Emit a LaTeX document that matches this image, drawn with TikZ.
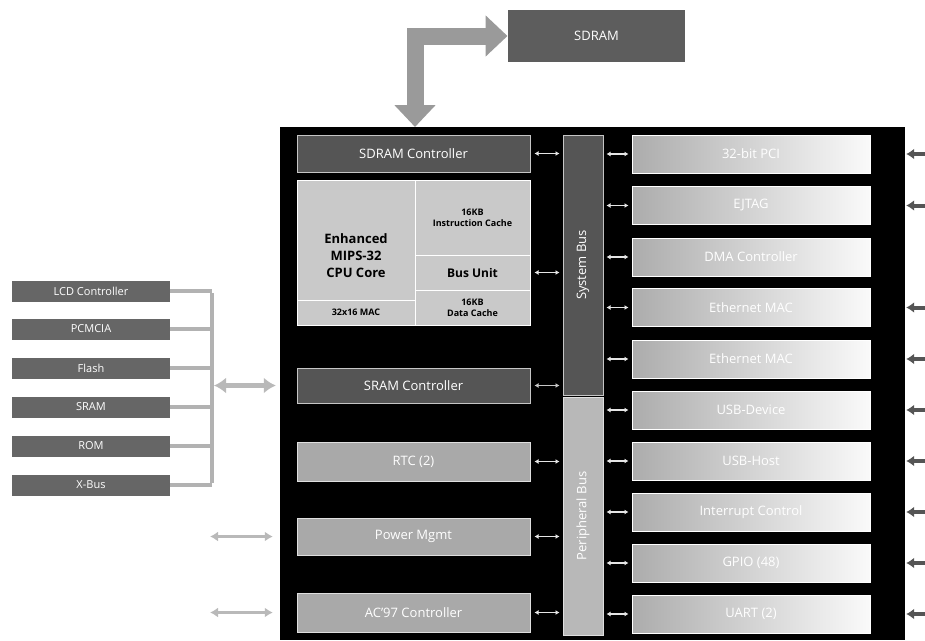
\documentclass[tikz,border=0pt]{standalone}
\usepackage{fontspec}
\setmainfont{Open Sans}
\usetikzlibrary{arrows.meta,positioning}
\definecolor{dkbox}{HTML}{555555}
\definecolor{ltbox}{HTML}{A9A9A9}
\definecolor{cpubox}{HTML}{C9C9C9}
\definecolor{fatgray}{HTML}{9A9A9A}
\definecolor{pbus}{HTML}{B8B8B8}
\tikzset{
  base/.style={inner sep=0pt, align=center, text=white},
  darkbox/.style={base, fill=dkbox, draw=gray!45, line width=1pt, font=\fontsize{13}{15}\selectfont},
  lightbox/.style={base, fill=ltbox, draw=gray!25, line width=1pt, font=\fontsize{13}{15}\selectfont},
  cpucell/.style={base, text=black, fill=cpubox, draw=white, line width=1pt, font=\bfseries\fontsize{9}{11}\selectfont},
  rightbox/.style={base, left color=gray!65, right color=gray!4, draw=white, line width=1pt,
    minimum width=238pt, minimum height=38pt, font=\fontsize{13}{15}\selectfont},
  leftbox/.style={base, fill=dkbox!90, minimum width=158pt, minimum height=21pt, font=\fontsize{11}{13}\selectfont},
  smallarr/.style={{Latex[length=4pt,width=5pt]}-{Latex[length=4pt,width=5pt]}, line width=1.4pt, draw=gray!20},
  extarr/.style={{Latex[length=8pt,width=10pt]}-{Latex[length=8pt,width=10pt]}, line width=3.5pt, draw=gray!55},
  rextarr/.style={{Latex[length=8pt,width=11pt]}-, line width=4pt, draw=dkbox},
  fatarr/.style={{Triangle[length=22pt,width=40pt]}-{Triangle[length=22pt,width=40pt]}, line width=17pt, draw=fatgray},
  brack/.style={line width=4pt, draw=gray!60}
}
\begin{document}
\begin{tikzpicture}[x=1pt,y=-1pt]
\useasboundingbox (0,0) rectangle (925,640);
% top SDRAM
\node[darkbox, fill=dkbox!95, draw=none, minimum width=177pt, minimum height=52pt] (sdram) at (596.5,36) {SDRAM};
% main black box
\node[fill=black, inner sep=0pt, minimum width=625pt, minimum height=513pt] (main) at (592.5,383.5) {};
\coordinate (mtop) at (415,127);
\draw[fatarr] (sdram.west) -| (mtop);
% left column of main
\node[darkbox, minimum width=233pt, minimum height=37pt] (sdc) at (413.5,153.5) {SDRAM Controller};
\node[cpucell, font=\bfseries\fontsize{13}{17}\selectfont, minimum width=118pt, minimum height=120pt, text height=76pt] (core) at (356,240) {Enhanced\\MIPS-32\\CPU Core};
\node[cpucell, minimum width=118pt, minimum height=25pt] (mac) at (356,312.5) {32x16 MAC};
\node[cpucell, minimum width=115pt, minimum height=75pt] (icache) at (472.5,217.5) {16KB\\Instruction Cache};
\node[cpucell, font=\bfseries\fontsize{12}{14}\selectfont, minimum width=115pt, minimum height=35pt] (busu) at (472.5,272.5) {Bus Unit};
\node[cpucell, minimum width=115pt, minimum height=35pt] (dcache) at (472.5,307.5) {16KB\\Data Cache};
\node[darkbox, minimum width=233pt, minimum height=35pt] (sramc) at (413.5,385.5) {SRAM Controller};
\node[lightbox, minimum width=233pt, minimum height=39pt] (rtc) at (413.5,461.5) {RTC (2)};
\node[lightbox, minimum width=233pt, minimum height=37pt] (pwr) at (413.5,536.5) {Power Mgmt};
\node[lightbox, minimum width=233pt, minimum height=39pt] (ac97) at (413.5,612.5) {AC'97 Controller};
% buses
\node[base, fill=dkbox, draw=gray!45, line width=1pt, minimum width=40pt, minimum height=260pt] (sbus) at (583,265) {};
\node[base, rotate=90, font=\fontsize{13}{15}\selectfont] at (sbus.center) {System Bus};
\node[base, fill=pbus, draw=gray!25, line width=1pt, minimum width=40pt, minimum height=238pt] (pbus) at (583,516) {};
\node[base, rotate=90, font=\fontsize{13}{15}\selectfont] at (pbus.center) {Peripheral Bus};
% right boxes
\node[rightbox] (r1) at (751,154) {32-bit PCI};
\node[rightbox] (r2) at (751,205.5) {EJTAG};
\node[rightbox] (r3) at (751,257) {DMA Controller};
\node[rightbox] (r4) at (751,307.5) {Ethernet MAC};
\node[rightbox] (r5) at (751,359) {Ethernet MAC};
\node[rightbox] (r6) at (751,410) {USB-Device};
\node[rightbox] (r7) at (751,461) {USB-Host};
\node[rightbox] (r8) at (751,512) {Interrupt Control};
\node[rightbox] (r9) at (751,563) {GPIO (48)};
\node[rightbox] (r10) at (751,614) {UART (2)};
% small arrows bus <-> right boxes
\foreach \i in {1,...,5} \draw[smallarr, shorten <=3pt, shorten >=3pt] (r\i.west) -- (r\i.west -| sbus.east);
\foreach \i in {6,...,10} \draw[smallarr, shorten <=3pt, shorten >=3pt] (r\i.west) -- (r\i.west -| pbus.east);
% small arrows left column <-> bus
\draw[smallarr, shorten <=4pt, shorten >=3pt] (sdc.east) -- (sdc.east -| sbus.west);
\draw[smallarr, shorten <=4pt, shorten >=3pt] (busu.east) -- (busu.east -| sbus.west);
\draw[smallarr, shorten <=4pt, shorten >=3pt, draw=gray!45] (sramc.east) -- (sramc.east -| sbus.west);
\draw[smallarr, shorten <=4pt, shorten >=3pt] (rtc.east) -- (rtc.east -| pbus.west);
\draw[smallarr, shorten <=4pt, shorten >=3pt] (pwr.east) -- (pwr.east -| pbus.west);
\draw[smallarr, shorten <=4pt, shorten >=3pt] (ac97.east) -- (ac97.east -| pbus.west);
% external arrows right (cut by the picture's edge)
\foreach \i in {1,2,4,5,6,7,8,9,10} {
  \coordinate (re\i) at ([xshift=22pt]main.east |- r\i.east);
  \draw[rextarr, shorten <=1pt] (main.east |- r\i.east) -- (re\i);
}
% left boxes
\node[leftbox] (lcd) at (91,291) {LCD Controller};
\node[leftbox] (pcm) at (91,329) {PCMCIA};
\node[leftbox] (fla) at (91,368) {Flash};
\node[leftbox] (sra) at (91,407) {SRAM};
\node[leftbox] (rom) at (91,446) {ROM};
\node[leftbox] (xbus) at (91,485) {X-Bus};
\coordinate (btop) at (212,291);
\coordinate (bbot) at (212,485);
\draw[brack] ([yshift=-2pt]btop) -- ([yshift=2pt]bbot);
\foreach \n in {lcd,pcm,fla,sra,rom,xbus} \draw[brack] (\n.east) -- (\n.east -| btop);
\coordinate (bmid) at (214,385.5);
\draw[extarr, line width=5pt, {Latex[length=12pt,width=16pt]}-{Latex[length=12pt,width=16pt]}, shorten >=4pt] (bmid) -- (bmid -| main.west);
% left external arrows
\coordinate (pl) at (210,536.5);
\coordinate (al) at (210,612.5);
\draw[extarr, shorten >=7pt] (pl) -- (pl -| main.west);
\draw[extarr, shorten >=7pt] (al) -- (al -| main.west);
\end{tikzpicture}
\end{document}
